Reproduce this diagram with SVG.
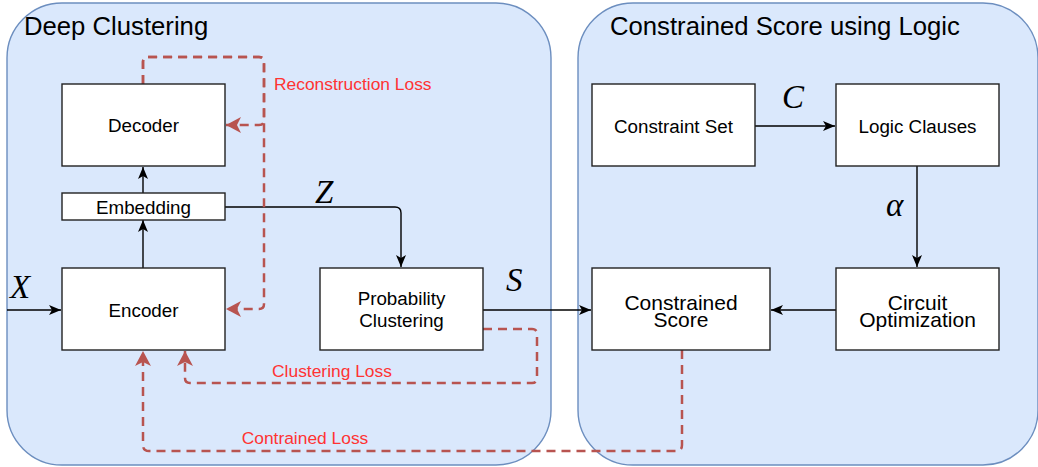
<svg xmlns="http://www.w3.org/2000/svg" width="1038" height="467" viewBox="0 0 1038 467">
<style>
.cont{fill:#dae8fc;stroke:#6c8ebf;stroke-width:1.4}
.box{fill:#ffffff;stroke:#222;stroke-width:1.4}
.t{font-family:"Liberation Sans",Arial,sans-serif;font-size:18.8px;fill:#000;text-anchor:middle}
.tb{font-family:"Liberation Sans",Arial,sans-serif;font-size:21px;fill:#000;text-anchor:middle}
.title{font-family:"Liberation Sans",Arial,sans-serif;font-size:25.7px;fill:#000}
.lbl{font-family:"Liberation Sans",Arial,sans-serif;font-size:17.4px;fill:#ff3333}
.m{font-family:"Liberation Serif","Times New Roman",serif;font-style:italic;font-size:33px;fill:#000}
.e{fill:none;stroke:#000;stroke-width:1.4}
.d{fill:none;stroke:#b85450;stroke-width:2.5;stroke-dasharray:9 6}
</style>
<defs>
<marker id="ab" markerUnits="userSpaceOnUse" markerWidth="12" markerHeight="10" refX="12" refY="5" orient="auto">
<path d="M0,0 L12,5 L0,10 L3,5 Z" fill="#000"/>
</marker>
<marker id="ar" markerUnits="userSpaceOnUse" markerWidth="15" markerHeight="16" refX="15" refY="8" orient="auto">
<path d="M0,0 L15,8 L0,16 L4,8 Z" fill="#b85450"/>
</marker>
</defs>

<g id="deep-clustering">
<rect class="cont" x="7" y="3" width="544" height="462" rx="55" ry="55"/>
<text class="title" x="24" y="35">Deep Clustering</text>
</g>
<g id="constrained-score-logic">
<rect class="cont" x="578" y="3" width="460" height="462" rx="55" ry="55"/>
<text class="title" x="610" y="35">Constrained Score using Logic</text>
</g>

<g id="connectors">
<path class="e" d="M7,310 L61,310" marker-end="url(#ab)"/>
<path class="e" d="M143,268 L143,220" marker-end="url(#ab)"/>
<path class="e" d="M143,193 L143,167" marker-end="url(#ab)"/>
<path class="e" d="M225,207 L395,207 Q401,207 401,213 L401,267" marker-end="url(#ab)"/>
<path class="e" d="M483,310 L591,310" marker-end="url(#ab)"/>
<path class="e" d="M755,126 L835,126" marker-end="url(#ab)"/>
<path class="e" d="M917,166 L917,267" marker-end="url(#ab)"/>
<path class="e" d="M836,310 L771,310" marker-end="url(#ab)"/>

<path class="d" d="M143,84 L143,62 Q143,57 148,57 L259,57 Q264,57 264,62 L264,120 Q264,125 259,125 L226,125" marker-end="url(#ar)"/>
<path class="d" d="M143,84 L143,62 Q143,57 148,57 L259,57 Q264,57 264,62 L264,304 Q264,309 259,309 L226,309" marker-end="url(#ar)"/>
<path class="d" d="M483,329 L532,329 Q537,329 537,334 L537,378 Q537,383 532,383 L190,383 Q185,383 185,378 L185,351" marker-end="url(#ar)"/>
<path class="d" d="M682,350 L682,445 Q682,451 676,451 L149,451 Q143,451 143,445 L143,351" marker-end="url(#ar)"/>

<text class="m" x="10" y="298">X</text>
<text class="m" x="315" y="203">Z</text>
<text class="m" x="506" y="291">S</text>
<text class="m" x="782" y="108">C</text>
<text class="m" x="886" y="216">α</text>
<text class="lbl" x="274" y="90">Reconstruction Loss</text>
<text class="lbl" x="332" y="377" text-anchor="middle">Clustering Loss</text>
<text class="lbl" x="305" y="444" text-anchor="middle">Contrained Loss</text>
</g>

<g id="decoder">
<rect class="box" x="62" y="84" width="163" height="82"/>
<text class="t" x="143.5" y="132">Decoder</text>
</g>
<g id="embedding">
<rect class="box" x="62" y="193" width="163" height="27"/>
<text class="t" x="143.5" y="214">Embedding</text>
</g>
<g id="encoder">
<rect class="box" x="62" y="268" width="163" height="82"/>
<text class="t" x="143.5" y="316.5">Encoder</text>
</g>
<g id="probability-clustering">
<rect class="box" x="320" y="268" width="163" height="82"/>
<text class="t" x="401.5" y="305">Probability</text>
<text class="t" x="401.5" y="326.5">Clustering</text>
</g>
<g id="constraint-set">
<rect class="box" x="592" y="84" width="163" height="82"/>
<text class="t" x="673.5" y="132.5">Constraint Set</text>
</g>
<g id="logic-clauses">
<rect class="box" x="836" y="84" width="163" height="82"/>
<text class="t" x="917.5" y="132.5">Logic Clauses</text>
</g>
<g id="constrained-score">
<rect class="box" x="592" y="268" width="178" height="82"/>
<text class="tb" x="681" y="309.5">Constrained</text>
<text class="tb" x="681" y="327">Score</text>
</g>
<g id="circuit-optimization">
<rect class="box" x="836" y="268" width="163" height="82"/>
<text class="tb" x="917.5" y="309.5">Circuit</text>
<text class="tb" x="917.5" y="327">Optimization</text>
</g>
</svg>
